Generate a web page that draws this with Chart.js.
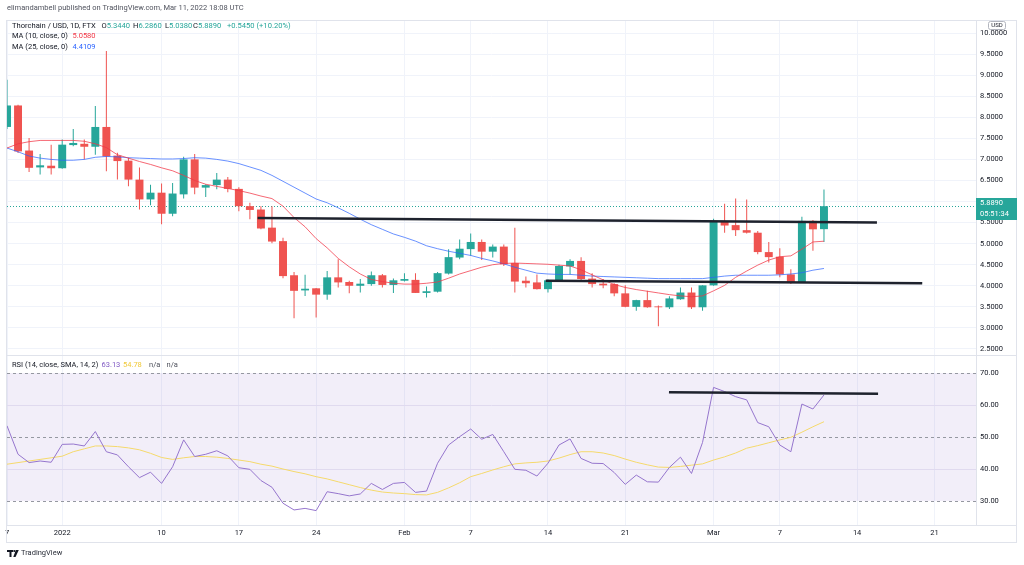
<!DOCTYPE html>
<html>
<head>
<meta charset="utf-8">
<script src="https://cdn.jsdelivr.net/npm/chart.js@4.4.1/dist/chart.umd.min.js"></script>
<style>
  html, body { margin: 0; padding: 0; background: #ffffff; }
  canvas { display: block; }
</style>
</head>
<body>
<canvas id="c" width="1024" height="565"></canvas>
<script>
// ---------------- DATA ----------------
const dates = [
  '2021-12-27','2021-12-28','2021-12-29','2021-12-30','2021-12-31',
  '2022-01-01','2022-01-02','2022-01-03','2022-01-04','2022-01-05','2022-01-06','2022-01-07','2022-01-08','2022-01-09','2022-01-10',
  '2022-01-11','2022-01-12','2022-01-13','2022-01-14','2022-01-15','2022-01-16','2022-01-17','2022-01-18','2022-01-19','2022-01-20',
  '2022-01-21','2022-01-22','2022-01-23','2022-01-24','2022-01-25','2022-01-26','2022-01-27','2022-01-28','2022-01-29','2022-01-30','2022-01-31',
  '2022-02-01','2022-02-02','2022-02-03','2022-02-04','2022-02-05','2022-02-06','2022-02-07','2022-02-08','2022-02-09','2022-02-10',
  '2022-02-11','2022-02-12','2022-02-13','2022-02-14','2022-02-15','2022-02-16','2022-02-17','2022-02-18','2022-02-19','2022-02-20',
  '2022-02-21','2022-02-22','2022-02-23','2022-02-24','2022-02-25','2022-02-26','2022-02-27','2022-02-28',
  '2022-03-01','2022-03-02','2022-03-03','2022-03-04','2022-03-05','2022-03-06','2022-03-07','2022-03-08','2022-03-09','2022-03-10','2022-03-11'
];
const openP = [7.77,8.28,7.21,6.81,6.85, 6.79,7.34,7.37,7.30,7.77, 7.09,6.97,6.52,6.05,6.21, 5.71,6.17,7.00,6.33,6.39,
  6.52,6.30,5.89,5.81,5.38, 5.06,4.25,3.89,3.94,3.79, 4.20,4.09,4.00,4.04,4.25, 4.02,4.12,4.14,3.83,3.86,
  4.29,4.67,4.87,5.04,4.81, 4.93,4.54,4.12,4.08,3.92, 4.12,4.46,4.59,4.17,4.05, 4.04,3.82,3.50,3.66,3.51,
  3.49,3.68,3.84,3.49,4.01, 5.54,5.44,5.32,5.26,4.80, 4.69,4.27,4.09,5.54,5.344];
const highP = [8.89,8.30,7.51,7.13,7.35, 7.47,7.72,7.47,8.27,9.57, 7.16,7.04,6.81,6.40,6.43, 6.44,7.06,7.13,6.41,6.68,
  6.58,6.34,5.97,5.89,5.89, 5.14,4.33,4.26,3.95,4.35, 4.63,4.12,4.16,4.34,4.28, 4.17,4.30,4.30,3.98,4.33,
  4.87,5.10,5.24,5.10,4.98, 4.98,5.38,4.22,4.27,4.15, 4.50,4.63,4.68,4.30,4.16, 4.06,4.01,3.67,3.88,3.53,
  3.75,3.96,3.96,4.01,5.59, 5.95,6.07,6.05,5.30,5.04, 4.89,4.39,5.64,5.56,6.286];
const lowP = [7.72,7.15,6.70,6.64,6.64, 6.78,7.31,7.00,7.11,6.72, 6.52,6.36,5.81,5.91,5.46, 5.65,6.07,6.17,6.11,6.29,
  6.22,5.77,5.58,5.34,5.01, 4.18,3.23,3.76,3.25,3.67, 3.96,3.82,3.84,4.00,3.96, 3.83,4.10,3.83,3.72,3.84,
  4.27,4.63,4.71,4.61,4.67, 4.47,3.84,3.96,3.91,3.84, 4.10,4.27,4.12,3.96,3.94, 3.75,3.49,3.41,3.48,3.04,
  3.45,3.67,3.45,3.41,4.00, 5.26,5.18,5.24,4.75,4.55, 4.20,4.04,4.09,4.83,5.038];
const closeP = [8.28,7.19,6.80,6.86,6.79, 7.35,7.39,7.30,7.77,7.07, 6.96,6.52,6.05,6.21,5.71, 6.19,7.00,6.33,6.39,6.52,
  6.30,5.89,5.80,5.36,5.05, 4.23,3.88,3.93,3.79,4.20, 4.08,4.00,4.05,4.25,4.02, 4.13,4.16,3.83,3.87,4.30,
  4.68,4.88,5.04,4.81,4.93, 4.51,4.10,4.06,3.92,4.13, 4.47,4.59,4.16,4.04,4.01, 3.82,3.50,3.66,3.49,3.49,
  3.70,3.84,3.49,4.01,5.54, 5.43,5.32,5.26,4.80,4.68, 4.27,4.09,5.54,5.34,5.889];
const ma10 = [7.27,7.37,7.42,7.45,7.45,7.45,7.45,7.43,7.37,7.28,
  7.11,7.03,6.95,6.88,6.80,6.73,6.62,6.50,6.41,6.36,
  6.31,6.26,6.20,6.13,6.07,5.89,5.62,5.40,5.12,4.90,
  4.65,4.45,4.28,4.15,4.10,4.06,4.04,4.04,4.06,4.09,
  4.18,4.28,4.36,4.44,4.50,4.53,4.54,4.53,4.52,4.51,
  4.49,4.47,4.38,4.26,4.14,4.03,3.96,3.91,3.87,3.83,
  3.79,3.76,3.74,3.76,3.88,4.01,4.20,4.35,4.49,4.61,
  4.69,4.71,4.87,5.04,5.058];
const ma25 = [7.27,7.18,7.08,7.03,7.00,6.98,6.98,7.00,7.05,7.07,
  7.06,7.04,7.03,7.02,7.01,7.01,7.02,7.04,7.03,7.00,
  6.96,6.90,6.82,6.74,6.62,6.48,6.34,6.20,6.06,5.97,
  5.85,5.72,5.58,5.45,5.34,5.23,5.15,5.06,4.95,4.88,
  4.82,4.77,4.72,4.65,4.59,4.52,4.44,4.37,4.30,4.28,
  4.27,4.27,4.25,4.23,4.22,4.21,4.20,4.19,4.18,4.17,
  4.17,4.17,4.17,4.17,4.20,4.23,4.25,4.25,4.25,4.25,
  4.26,4.28,4.31,4.37,4.4109];
const rsi = [53.5,44.6,42.0,42.5,42.1,47.7,47.8,47.2,51.7,45.4,
  44.4,40.7,37.3,39.0,35.5,40.7,49.1,43.9,44.6,45.7,
  44.1,40.4,39.9,36.4,34.3,29.3,27.2,27.7,27.0,32.9,
  32.3,31.6,32.2,35.5,33.6,35.5,35.8,32.7,33.1,41.8,
  47.5,50.1,52.5,49.3,50.8,45.4,39.9,39.6,37.8,41.8,
  47.5,49.4,43.3,41.8,41.7,38.9,35.2,38.1,36.0,35.9,
  40.5,43.7,38.6,48.3,65.5,64.2,62.6,61.6,54.5,53.2,
  47.5,45.4,60.3,58.75,63.13];
const rsiSma = [41.5,42.0,42.5,43.0,43.5,44.0,45.4,46.3,47.2,47.2,
  47.0,46.6,46.0,44.9,43.6,43.0,43.5,43.9,43.9,43.7,
  43.3,42.8,42.3,41.5,40.9,40.0,39.2,38.5,37.6,36.9,
  36.0,35.1,34.2,33.4,32.8,32.5,32.3,32.0,31.9,32.7,
  34.1,35.7,37.6,38.6,39.7,40.7,41.6,41.9,42.1,42.5,
  43.4,44.5,45.4,45.4,45.0,44.2,43.1,42.1,41.3,40.6,
  40.5,40.8,41.2,41.6,42.8,43.8,45.0,46.5,47.3,48.2,
  49.1,49.9,51.5,53.2,54.78];
// hand-drawn trend lines [day offset from 2022-01-01, value]
const resistanceLine = [[17.7, 5.61], [73.8, 5.50]];
const supportLine = [[43.8, 4.12], [77.9, 4.06]];
const rsiLine = [[54.96, 63.97], [73.9, 63.53]];
// axis ticks
const dateTickDays = [-5, 0, 9, 16, 23, 31, 37, 44, 51, 59, 65, 72, 79];
const dateTickLabels = ['7', '2022', '10', '17', '24', 'Feb', '7', '14', '21', 'Mar', '7', '14', '21'];
const priceTicks = [2.5, 3, 3.5, 4, 4.5, 5, 5.5, 6, 6.5, 7, 7.5, 8, 8.5, 9, 9.5, 10];
const rsiTicks = [30, 40, 50, 60, 70];
const rsiBands = [70, 50, 30];

// ---------------- BUILD ----------------
const UP = '#26a69a', DOWN = '#ef5350';
const epoch = Date.parse('2022-01-01');
const dayX = dates.map(d => (Date.parse(d) - epoch) / 86400000);
const candleColors = dayX.map((_, i) => closeP[i] >= openP[i] ? UP : DOWN);
const bodies = dayX.map((x, i) => ({ x, y: [openP[i], closeP[i]] }));
const wicks = dayX.map((x, i) => ({ x, y: [lowP[i], highP[i]] }));
const pts = arr => dayX.map((x, i) => ({ x, y: arr[i] }));
const seg = arr => arr.map(p => ({ x: p[0], y: p[1] }));
const lastClose = closeP[closeP.length - 1];
const FONT = 'Roboto, "Liberation Sans", sans-serif';
const TITLE = 'Thorchain / USD, 1D, FTX';

const overlay = {
  id: 'overlay',
  beforeDatasetsDraw(chart) {
    const { ctx, chartArea: a, scales } = chart;
    const r = scales.rsi;
    const y70 = r.getPixelForValue(70), y30 = r.getPixelForValue(30);
    ctx.save();
    ctx.fillStyle = 'rgba(126,87,194,0.10)';
    ctx.fillRect(a.left, y70, a.right - a.left, y30 - y70);
    ctx.strokeStyle = '#9598a1';
    ctx.lineWidth = 1;
    ctx.setLineDash([3, 3]);
    rsiBands.forEach(v => {
      const y = Math.round(r.getPixelForValue(v)) + 0.5;
      ctx.beginPath(); ctx.moveTo(a.left, y); ctx.lineTo(a.right, y); ctx.stroke();
    });
    const yp = Math.round(scales.y.getPixelForValue(lastClose)) + 0.5;
    ctx.strokeStyle = UP;
    ctx.setLineDash([1, 2]);
    ctx.beginPath(); ctx.moveTo(a.left, yp); ctx.lineTo(a.right, yp); ctx.stroke();
    ctx.restore();
  },
  afterDraw(chart) {
    const { ctx, scales } = chart;
    ctx.save();
    // frame and separators
    ctx.strokeStyle = '#e0e3eb';
    ctx.lineWidth = 1;
    ctx.strokeRect(6.5, 20.5, 1010, 522);
    ctx.beginPath();
    ctx.moveTo(6.5, 355.5); ctx.lineTo(1016.5, 355.5);
    ctx.moveTo(6.5, 525.5); ctx.lineTo(1016.5, 525.5);
    ctx.stroke();

    ctx.textBaseline = 'middle';
    ctx.textAlign = 'left';
    // header
    ctx.font = '7.5px ' + FONT;
    ctx.fillStyle = '#50535e';
    ctx.fillText('elimandambell published on TradingView.com, Mar 11, 2022 18:08 UTC', 7, 8);

    // legend line 1: size the font so the title spans like the reference
    const dark = '#131722';
    ctx.font = '10px ' + FONT;
    const fs = Math.min(9, 10 * 84 / ctx.measureText(TITLE).width);
    ctx.font = fs.toFixed(2) + 'px ' + FONT;
    ctx.fillStyle = dark;
    ctx.fillText(TITLE, 12, 26);
    const ohlc = [['O', openP], ['H', highP], ['L', lowP], ['C', closeP]];
    const ohlcX = [101.5, 133, 165, 193];
    ohlc.forEach((o, k) => {
      ctx.fillStyle = dark;
      ctx.fillText(o[0], ohlcX[k], 26);
      const w = ctx.measureText(o[0]).width;
      ctx.fillStyle = UP;
      ctx.fillText(o[1][o[1].length - 1].toFixed(4), ohlcX[k] + w, 26);
    });
    ctx.fillStyle = UP;
    ctx.fillText('+0.5450 (+10.20%)', 227, 26);

    ctx.font = '7.5px ' + FONT;
    ctx.fillStyle = dark;
    ctx.fillText('MA (10, close, 0)', 12, 36.5);
    ctx.fillText('MA (25, close, 0)', 12, 47);
    ctx.fillStyle = '#f23645';
    ctx.fillText(ma10[ma10.length - 1].toFixed(4), 72.5, 36.5);
    ctx.fillStyle = '#2962ff';
    ctx.fillText(ma25[ma25.length - 1].toFixed(4), 72.5, 47);

    // RSI legend
    ctx.fillStyle = dark;
    ctx.fillText('RSI (14, close, SMA, 14, 2)', 12, 365);
    ctx.fillStyle = '#7e57c2';
    ctx.fillText(rsi[rsi.length - 1].toFixed(2), 101.5, 365);
    ctx.fillStyle = '#f0c93a';
    ctx.fillText(rsiSma[rsiSma.length - 1].toFixed(2), 123, 365);
    ctx.fillStyle = '#50535e';
    ctx.fillText('n/a', 149, 365);
    ctx.fillText('n/a', 166.5, 365);

    // last price label
    const yp = scales.y.getPixelForValue(lastClose);
    ctx.fillStyle = UP;
    ctx.fillRect(976, Math.round(yp) - 8, 41, 22);
    ctx.fillStyle = '#ffffff';
    ctx.font = '7.5px ' + FONT;
    ctx.fillText(lastClose.toFixed(4), 980, Math.round(yp) - 2.5);
    ctx.fillText('05:51:34', 980, Math.round(yp) + 8);

    // USD badge
    ctx.fillStyle = '#ffffff';
    ctx.strokeStyle = '#b2b5be';
    ctx.beginPath();
    ctx.roundRect(988.5, 21.5, 17, 8, 2);
    ctx.fill(); ctx.stroke();
    ctx.fillStyle = dark;
    ctx.font = '6px ' + FONT;
    ctx.textAlign = 'center';
    ctx.fillText('USD', 997, 25.8);

    // TradingView logo
    ctx.textAlign = 'left';
    ctx.fillStyle = dark;
    ctx.fillRect(7, 550, 6, 2);
    ctx.fillRect(9.5, 550, 2, 7);
    ctx.beginPath(); ctx.arc(14.3, 551, 1.1, 0, Math.PI * 2); ctx.fill();
    ctx.beginPath(); ctx.moveTo(15.8, 550); ctx.lineTo(18.8, 550); ctx.lineTo(15.5, 557); ctx.lineTo(13.3, 557); ctx.closePath(); ctx.fill();
    ctx.font = '7.5px ' + FONT;
    ctx.fillStyle = '#2a2e39';
    ctx.fillText('TradingView', 21, 553.5);
    ctx.restore();
  }
};

Chart.defaults.font.family = FONT;

new Chart(document.getElementById('c'), {
  type: 'bar',
  data: {
    datasets: [
      { type: 'line', data: seg(resistanceLine), yAxisID: 'y', borderColor: '#1e222d', borderWidth: 2.5, pointRadius: 0, order: -2 },
      { type: 'line', data: seg(supportLine), yAxisID: 'y', borderColor: '#1e222d', borderWidth: 2.5, pointRadius: 0, order: -2 },
      { type: 'line', data: seg(rsiLine), yAxisID: 'rsi', borderColor: '#1e222d', borderWidth: 2.5, pointRadius: 0, order: -2 },
      { type: 'line', data: pts(ma10), yAxisID: 'y', borderColor: 'rgba(242,54,69,0.75)', borderWidth: 1, pointRadius: 0, order: -1 },
      { type: 'line', data: pts(ma25), yAxisID: 'y', borderColor: 'rgba(41,98,255,0.7)', borderWidth: 1, pointRadius: 0, order: -1 },
      { type: 'line', data: pts(rsi), yAxisID: 'rsi', borderColor: '#9575cd', borderWidth: 1, pointRadius: 0, order: -1 },
      { type: 'line', data: pts(rsiSma), yAxisID: 'rsi', borderColor: '#f5d96b', borderWidth: 1, pointRadius: 0, order: -1 },
      { type: 'bar', data: bodies, yAxisID: 'y', backgroundColor: candleColors, grouped: false, barPercentage: 1, categoryPercentage: 0.72, order: 1 },
      { type: 'bar', data: wicks, yAxisID: 'y', backgroundColor: candleColors, grouped: false, maxBarThickness: 1, order: 2 }
    ]
  },
  options: {
    responsive: false,
    animation: false,
    events: [],
    layout: { padding: { left: 7, right: 7, top: 21, bottom: 22 } },
    plugins: { legend: { display: false }, tooltip: { enabled: false } },
    scales: {
      x: {
        type: 'linear', min: -5, max: 82.77, offset: false,
        grid: { offset: false, color: '#f0f3fa', drawTicks: false },
        border: { color: '#e0e3eb' },
        ticks: { autoSkip: false, maxRotation: 0, minRotation: 0, padding: 4, color: '#131722', font: { size: 7.5 },
          callback: (v, i) => dateTickLabels[i] },
        afterBuildTicks: s => { s.ticks = dateTickDays.map(v => ({ value: v })); },
        afterFit: s => { s.height = 18; }
      },
      y: {
        position: 'right', stack: 'panes', stackWeight: 334,
        min: 2.357, max: 10.285,
        grid: { color: '#f0f3fa', drawTicks: false },
        border: { color: '#e0e3eb' },
        ticks: { autoSkip: false, padding: 4, color: '#131722', font: { size: 7.5 }, callback: v => Number(v).toFixed(4) },
        afterBuildTicks: s => { s.ticks = priceTicks.map(v => ({ value: v })); },
        afterFit: s => { s.width = 41; }
      },
      rsi: {
        axis: 'y', position: 'right', stack: 'panes', stackWeight: 170,
        min: 22.5, max: 75.625,
        grid: { color: c => rsiBands.includes(c.tick && c.tick.value) ? 'rgba(0,0,0,0)' : '#ebe9f4', drawTicks: false },
        border: { color: '#e0e3eb' },
        ticks: { autoSkip: false, padding: 4, color: '#131722', font: { size: 7.5 }, callback: v => Number(v).toFixed(2) },
        afterBuildTicks: s => { s.ticks = rsiTicks.map(v => ({ value: v })); },
        afterFit: s => { s.width = 41; }
      }
    }
  },
  plugins: [overlay]
});
</script>
</body>
</html>
